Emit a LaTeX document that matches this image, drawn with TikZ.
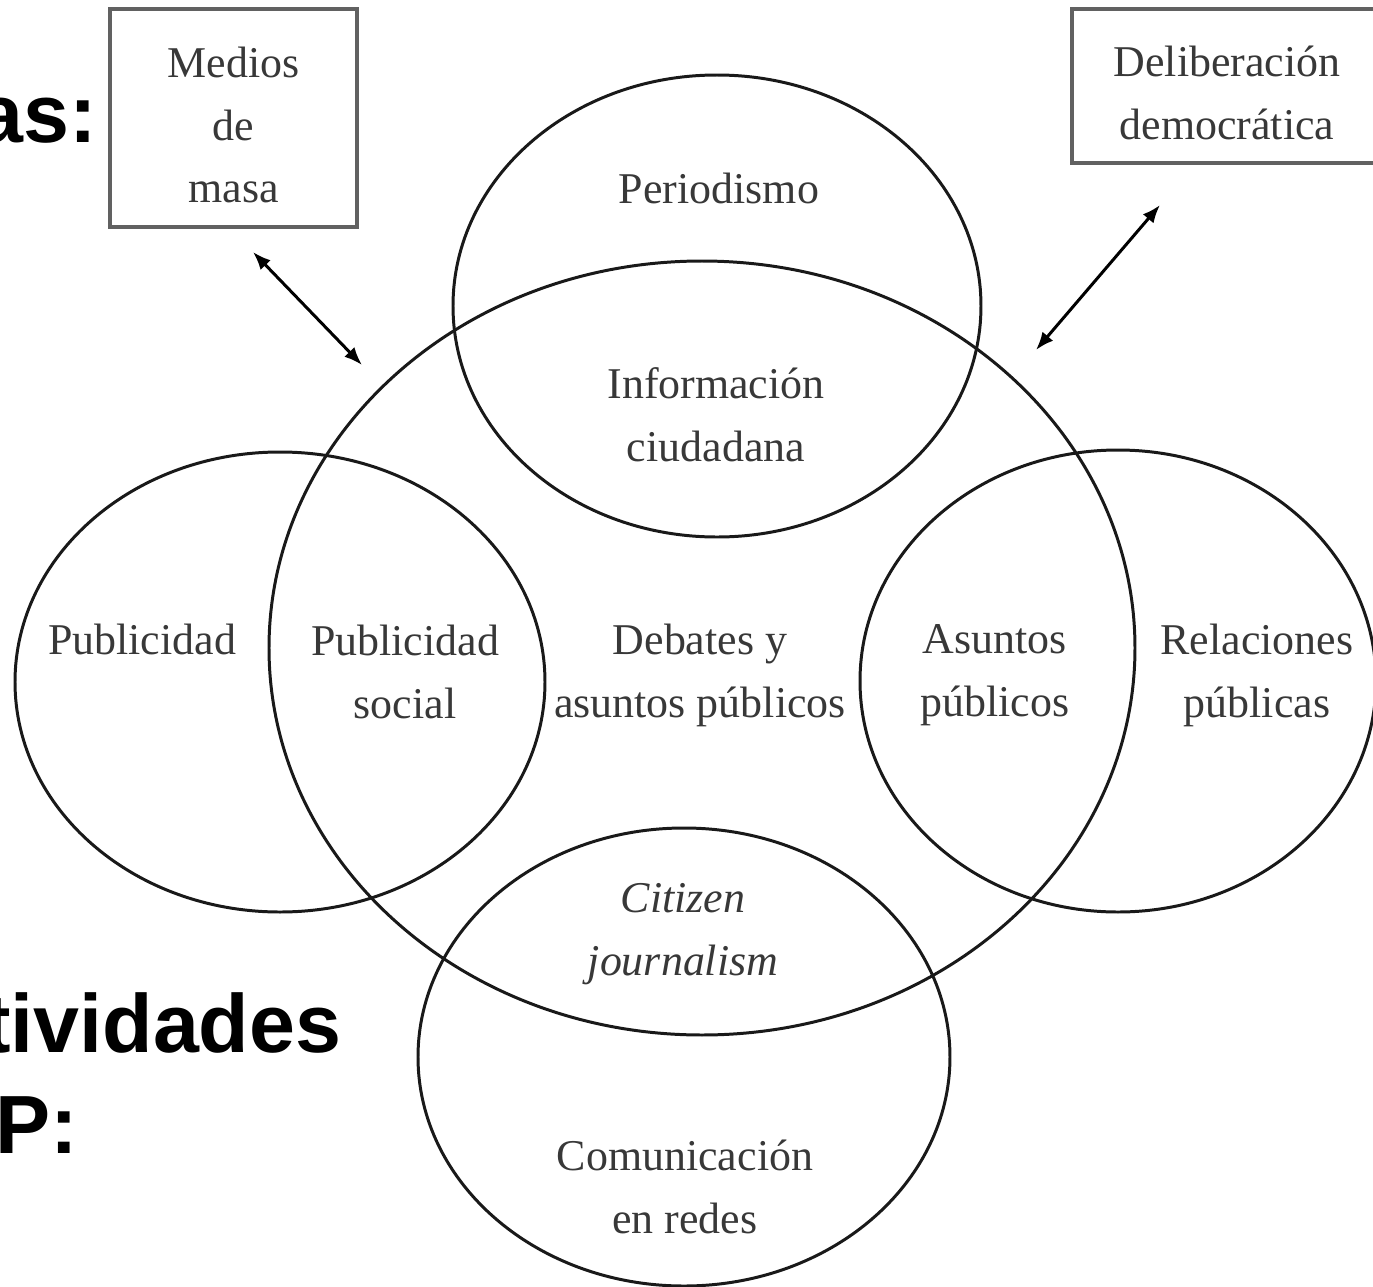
\documentclass[tikz,border=0pt]{standalone}
\usepackage{fontspec}
\setmainfont{Liberation Serif}
\newfontfamily\headfont{Liberation Sans}
\usetikzlibrary{arrows.meta}

\begin{document}
\begin{tikzpicture}[
		venn/.style = {line width = 0.85pt, black!90},
		venntext/.style = {text = black!78, align = center, inner sep = 0pt,
			font = \fontsize{12.5}{17.9}\selectfont},
		framebox/.style = {draw = black!62, line width = 1.05pt, inner sep = 0pt},
		headtext/.style = {inner sep = 0pt, text = black,
			font = \headfont\bfseries\fontsize{23.5}{28}\selectfont}
	]

	% Page size and clipping of the cut words
	
	\useasboundingbox (0, 0) rectangle (13.73, -12.87);
	\clip (0, 0) rectangle (13.73, -12.87);
	
	% Overlapping ellipses
	
	\foreach \cx/\cy/\rx/\ry in {7.02/-6.48/4.33/3.87, 7.17/-3.06/2.64/2.31,
		2.80/-6.82/2.65/2.30, 11.18/-6.81/2.58/2.31, 6.84/-10.57/2.66/2.29}
		{
		\draw [venn] (\cx, \cy) ellipse [x radius = \rx, y radius = \ry];
		}
	
	% Labels inside the ellipses
	
	\node [venntext] (periodismo) at (7.19, -1.88) {Periodismo};
	\node [venntext] (informacion) at (7.16, -4.15) {Información\\ciudadana};
	\node [venntext] (publicidad) at (1.42, -6.39) {Publicidad};
	\node [venntext] (social) at (4.05, -6.72) {Publicidad\\social};
	\node [venntext] (debates) at (7.00, -6.75) {Debates y\\asuntos públicos};
	\node [venntext] (asuntos) at (9.95, -6.75) {Asuntos\\públicos};
	\node [venntext] (relaciones) at (12.57, -6.75) {Relaciones\\públicas};
	\node [venntext, font = \fontsize{12.5}{17.9}\selectfont\itshape] (citizen)
		at (6.83, -9.34) {Citizen\\journalism};
	\node [venntext] (redes) at (6.85, -11.87) {Comunicación\\en redes};
	
	% Boxes with double arrows
	
	\node [framebox, minimum width = 2.47cm, minimum height = 2.18cm] (medios)
		at (2.335, -1.18) {};
	\node [venntext] (medios text) at ([yshift = -0.07cm] medios.center) {Medios\\de\\masa};
	
	\node [framebox, minimum width = 3.10cm, minimum height = 1.54cm] (deliberacion)
		at (12.27, -0.86) {};
	\node [venntext] (deliberacion text) at ([yshift = -0.07cm] deliberacion.center)
		{Deliberación\\democrática};
	
	\coordinate (medios end) at (2.53, -2.52);
	\coordinate (medios tip) at (3.62, -3.65);
	\coordinate (delib end) at (11.60, -2.05);
	\coordinate (delib tip) at (10.36, -3.50);
	
	\draw [{Latex[length = 1.8mm, width = 1.4mm]}-{Latex[length = 1.8mm, width = 1.4mm]},
		line width = 0.85pt] (medios end) -- (medios tip);
	\draw [{Latex[length = 1.8mm, width = 1.4mm]}-{Latex[length = 1.8mm, width = 1.4mm]},
		line width = 0.85pt] (delib end) -- (delib tip);
	
	% Bold words cut at the left edge
	
	\node [headtext, anchor = base east] (areas) at (0.98, -1.42) {as:};
	\node [headtext, anchor = base east] (actividades) at (3.42, -10.52) {tividades};
	\node [headtext, anchor = base east] (rrpp) at (0.79, -11.53) {P:};

\end{tikzpicture}
\end{document}
